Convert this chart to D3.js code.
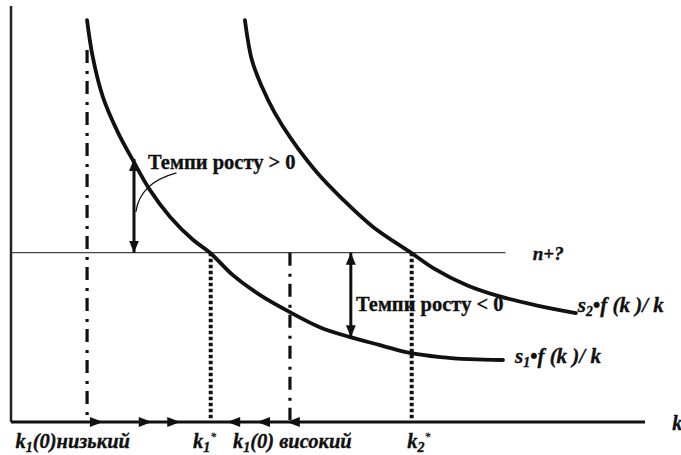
<!DOCTYPE html>
<html>
<head>
<meta charset="utf-8">
<style>
  body { margin: 0; background: #fff; }
  text { font-family: "Liberation Serif", "DejaVu Serif", serif; font-weight: 700; fill: #111; stroke: #111; stroke-width: 0.35px; }
</style>
</head>
<body>
<svg width="681" height="455"></svg>
<script src="https://d3js.org/d3.v7.min.js"></script>
<script>

// curve s1*f(k)/k (k, value)
var curve1K = [1.20, 1.29, 1.45, 1.69, 1.92, 2.19, 2.51, 2.87, 3.14, 3.50, 3.93, 4.40, 4.87, 5.35, 5.82, 6.29, 6.77, 7.24, 7.76]
var curve1V = [9.66, 8.77, 7.81, 6.95, 6.30, 5.58, 4.93, 4.38, 4.07, 3.53, 3.05, 2.64, 2.28, 2.04, 1.85, 1.66, 1.56, 1.51, 1.49]

// curve s2*f(k)/k
var curve2K = [3.69, 3.80, 3.96, 4.16, 4.43, 4.83, 5.24, 5.71, 6.32, 6.66, 7.19, 7.71, 8.30, 8.91]
var curve2V = [9.66, 8.70, 8.05, 7.43, 6.78, 5.99, 5.34, 4.69, 4.06, 3.70, 3.29, 3.02, 2.80, 2.62]

// n+? level and its end
var nLevel = 4.07
var nEnd = 7.80

// vertical guide lines: k value, top value, style
var guideK = [1.20, 3.15, 4.40, 6.32]
var guideTop = [8.94, nLevel, nLevel, nLevel]
var guideStyle = ['dashdot', 'dot', 'dashdot', 'dot']

// arrow tips on the k axis
var rightTips = [1.45, 2.22, 2.67]
var leftTips = [3.41, 3.88, 4.35]

// growth-rate double arrows: k, from n+? to the curve
var gapK = [1.94, 5.36]
var gapTo = [6.32, 2.04]

var tickLabels = [
  { k: 0.07, parts: [['k', 0], ['1', 1], ['(0)низький', 0]] },
  { k: 2.87, parts: [['k', 0], ['1', 1], ['*', 2]] },
  { k: 3.50, parts: [['k', 0], ['1', 1], ['(0) високий', 0]] },
  { k: 6.25, parts: [['k', 0], ['2', 1], ['*', 2]] }
]

var x = d3.scaleLinear().domain([0, 10]).range([11, 645])
var y = d3.scaleLinear().domain([0, 10]).range([422, 6])

var svg = d3.select('svg')

svg.append('defs').append('marker')
    .attr('id', 'head')
    .attr('viewBox', '0 -5 12 10')
    .attr('refX', 12)
    .attr('refY', 0)
    .attr('markerUnits', 'userSpaceOnUse')
    .attr('markerWidth', 12)
    .attr('markerHeight', 10)
    .attr('orient', 'auto-start-reverse')
  .append('path')
    .attr('d', 'M0,-5L12,0L0,5Z')
    .attr('fill', '#111')

// n+? line
svg.append('line')
    .attr('x1', x(0)).attr('x2', x(nEnd))
    .attr('y1', y(nLevel)).attr('y2', y(nLevel))
    .attr('stroke', '#444')
    .attr('stroke-width', 1.3)

// text labels (drawn before guides so dotted lines sit on top)
function addText(k, v, parts, size) {
  var t = svg.append('text')
      .attr('x', x(k))
      .attr('y', y(v))
      .attr('font-size', size)
  parts.forEach(function (p) {
    var s = t.append('tspan').text(p[0])
    if (p[2]) s.attr('font-style', 'italic')
    if (p[1] === 1) s.attr('font-size', size * 0.65).attr('baseline-shift', '-25%')
  })
  return t
}

addText(2.16, 6.08, [['Темпи росту > 0', 0]], 20.5)
addText(5.44, 2.67, [['Темпи росту < 0', 0]], 20.5)
addText(8.23, 3.89, [['n+?', 0, 1]], 19)
addText(8.94, 2.64, [['s', 0, 1], ['2', 1, 1], ['•f (k )/ k', 0, 1]], 21)
addText(7.95, 1.42, [['s', 0, 1], ['1', 1, 1], ['•f (k )/ k', 0, 1]], 21)
addText(10.43, -0.19, [['k', 0, 1]], 20)

tickLabels.forEach(function (d) {
  var t = svg.append('text')
      .attr('x', x(d.k))
      .attr('y', y(0) + 26)
      .attr('font-size', 20.5)
      .attr('font-style', 'italic')
  d.parts.forEach(function (p) {
    var s = t.append('tspan').text(p[0])
    if (p[1] === 1) s.attr('font-size', 14).attr('baseline-shift', '-25%')
    if (p[1] === 2) s.attr('font-size', 12).attr('baseline-shift', '60%').attr('stroke-width', 0)
  })
})

// guides
guideK.forEach(function (k, i) {
  var dot = guideStyle[i] === 'dot'
  svg.append('line')
      .attr('x1', x(k)).attr('x2', x(k))
      .attr('y1', y(guideTop[i])).attr('y2', y(0) - 2)
      .attr('stroke', '#111')
      .attr('stroke-width', dot ? 4 : 3.2)
      .attr('stroke-dasharray', dot ? '3.5,2.5' : '13,8,3,7')
})

// curves
var line = d3.line()
    .x(function (d) { return x(d[0]) })
    .y(function (d) { return y(d[1]) })
    .curve(d3.curveCatmullRom.alpha(0.5))

;[d3.zip(curve1K, curve1V), d3.zip(curve2K, curve2V)].forEach(function (pts) {
  svg.append('path')
      .datum(pts)
      .attr('d', line)
      .attr('fill', 'none')
      .attr('stroke', '#111')
      .attr('stroke-width', 3.8)
      .attr('stroke-linecap', 'round')
})

// axes
svg.append('line')
    .attr('x1', x(0)).attr('x2', x(0))
    .attr('y1', y(10)).attr('y2', y(0))
    .attr('stroke', '#222').attr('stroke-width', 2.5)
svg.append('line')
    .attr('x1', x(0)).attr('x2', x(10))
    .attr('y1', y(0)).attr('y2', y(0))
    .attr('stroke', '#111').attr('stroke-width', 2.8)

// arrows along k axis
rightTips.forEach(function (k) {
  svg.append('path')
      .attr('d', 'M' + x(k) + ',' + y(0) + 'l-13,-5v10z')
      .attr('fill', '#111')
})
leftTips.forEach(function (k) {
  svg.append('path')
      .attr('d', 'M' + x(k) + ',' + y(0) + 'l13,-5v10z')
      .attr('fill', '#111')
})

// double arrows showing growth rate
gapK.forEach(function (k, i) {
  svg.append('line')
      .attr('x1', x(k)).attr('x2', x(k))
      .attr('y1', y(nLevel)).attr('y2', y(gapTo[i]))
      .attr('stroke', '#111')
      .attr('stroke-width', 3)
      .attr('marker-start', 'url(#head)')
      .attr('marker-end', 'url(#head)')
})

// leader from label to the arrow
svg.append('path')
    .attr('d', 'M' + x(2.61) + ',' + y(5.99) + 'Q' + x(2.03) + ',' + y(5.75) + ' ' + x(1.97) + ',' + y(5.05))
    .attr('fill', 'none')
    .attr('stroke', '#111')
    .attr('stroke-width', 1.2)

</script>
</body>
</html>
